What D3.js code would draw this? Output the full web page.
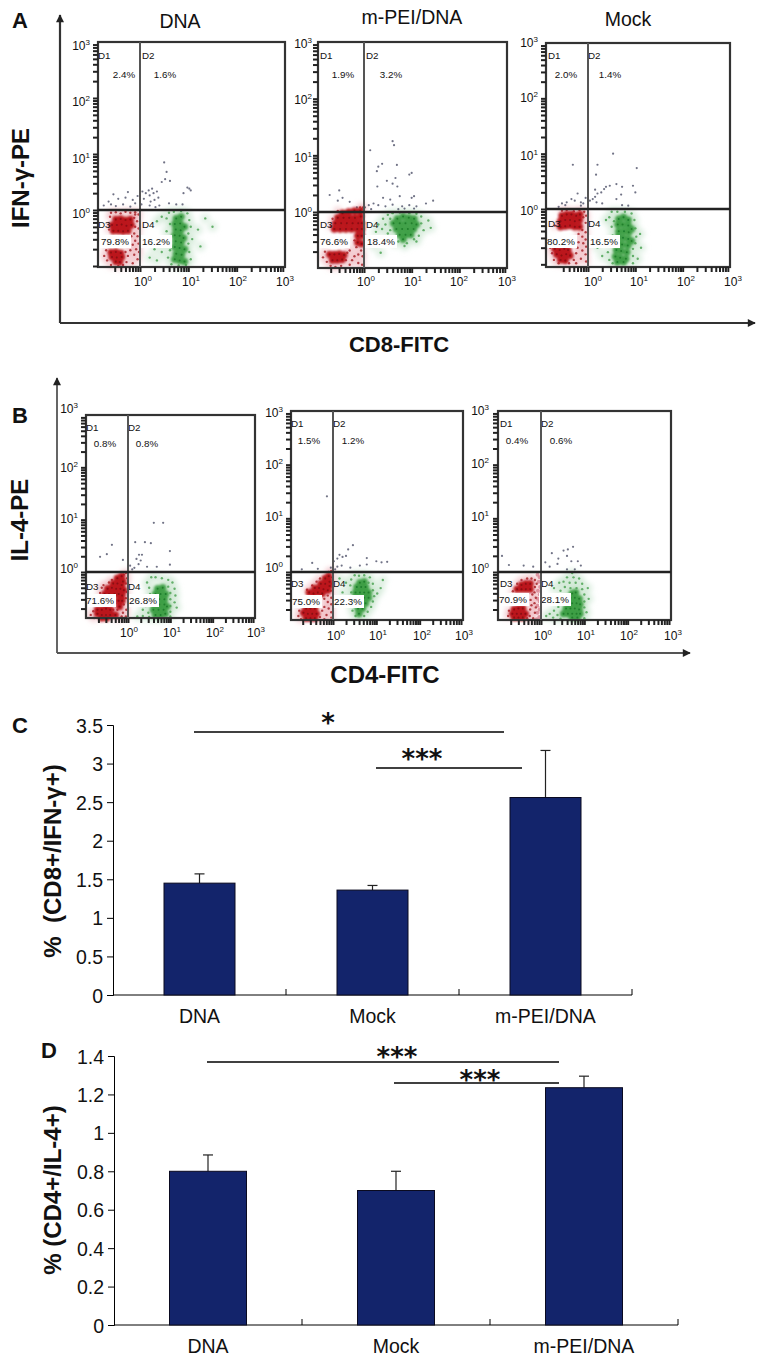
<!DOCTYPE html>
<html><head><meta charset="utf-8">
<script src="https://cdnjs.cloudflare.com/ajax/libs/d3/7.8.5/d3.min.js"></script>
<style>
html,body{margin:0;padding:0;background:#fff}
svg{display:block}
text{font-family:"Liberation Sans",Arial,sans-serif;fill:#111}
</style></head><body><svg id="c" width="773" height="1364"></svg>
<script>
// ---- Bar chart data ----
const barCategories=["DNA","Mock","m-PEI/DNA"];
const cd8Means=[1.45,1.36,2.56];
const cd8Tops=[1.57,1.42,3.17];
const cd4Means=[0.8,0.7,1.235];
const cd4Tops=[0.885,0.8,1.295];
const cd8Ticks=[0,0.5,1,1.5,2,2.5,3,3.5];
const cd4Ticks=[0,0.2,0.4,0.6,0.8,1,1.2,1.4];
// ---- Flow panels: points are [log10 x, log10 y] ----
const exponents=[0,1,2,3];
const a1Labels=["2.4%","1.6%","79.8%","16.2%"];
const a2Labels=["1.9%","3.2%","76.6%","18.4%"];
const a3Labels=["2.0%","1.4%","80.2%","16.5%"];
const b1Labels=["0.8%","0.8%","71.6%","26.8%"];
const b2Labels=["1.5%","1.2%","75.0%","22.3%"];
const b3Labels=["0.4%","0.6%","70.9%","28.1%"];

const a1Grey=[[-.75,.08],[-.6,.1],[-.65,.15],[-.5,.07],[-.45,.2],[-.55,.28],[-.35,.1],[-.3,.22],[-.2,.06],[-.15,.18],[-.1,.12],[-.25,.32],[-.05,.25],[.03,.1],[.08,.2],[.12,.3],[.05,.33],[.18,.35],[.2,.26],[.25,.38],[.28,.3],[.22,.15],[.3,.18],[.35,.33],[.4,.08],[.32,.05],[.6,.12],[.75,.1],[.45,.5],[.52,.55],[.62,.52],[.55,.68],[.5,.85],[.98,.4],[1.02,.38],[1.05,.35],[.9,.3],[.88,.1],[.2,.08],[.38,.22]];
const a1RedCore=[[-.5,-.17],[-.4,-.16],[-.3,-.18],[-.2,-.17],[-.58,-.27],[-.48,-.27],[-.38,-.26],[-.28,-.28],[-.18,-.27],[-.55,-.37],[-.45,-.37],[-.35,-.38],[-.25,-.37],[-.6,-.76],[-.5,-.75],[-.4,-.77],[-.58,-.84],[-.48,-.85],[-.38,-.84],[-.5,-.92],[-.42,-.93]];
const a1Red=[[-.6,-.05],[-.5,-.04],[-.4,-.06],[-.3,-.03],[-.2,-.05],[-.1,-.04],[-.03,-.08],[-.12,-.14],[-.06,-.2],[-.1,-.3],[-.03,-.33],[-.12,-.42],[-.05,-.47],[-.18,-.47],[-.1,-.55],[-.03,-.6],[-.15,-.62],[-.08,-.7],[-.02,-.75],[-.2,-.72],[-.12,-.8],[-.05,-.88],[-.25,-.82],[-.3,-.75],[-.28,-.93],[-.7,-.72],[-.74,-.82],[-.68,-.9],[-.6,-.98],[-.45,-1],[-.35,-.98],[-.15,-.95],[-.62,-.12],[-.1,-.08],[-.64,-.35]];
const a1GreenCore=[[.75,-.15],[.85,-.12],[.72,-.25],[.83,-.24],[.92,-.3],[.74,-.35],[.84,-.36],[.72,-.45],[.82,-.46],[.9,-.5],[.74,-.56],[.85,-.58],[.72,-.66],[.82,-.68],[.92,-.7],[.75,-.78],[.86,-.8],[.72,-.88],[.82,-.9],[.92,-.92]];
const a1Green=[[.6,-.05],[.7,-.03],[.85,-.02],[.98,-.06],[.55,-.15],[.45,-.12],[.35,-.2],[.62,-.25],[1.02,-.18],[1.05,-.3],[.55,-.38],[1,-.42],[1.08,-.52],[.6,-.5],[.5,-.6],[1,-.6],[.62,-.72],[1.02,-.75],[.58,-.85],[1.05,-.88],[.65,-.97],[.8,-.99],[.95,-.98],[.3,-.7],[.2,-.85],[.35,-.9],[.45,-.75],[1.2,-.35],[1.35,-.15],[1.25,-.65],[1.5,-.3]];

const a2Grey=[[.13,1.09],[.6,1.25],[.63,1.18],[.3,.8],[.38,.85],[.27,.72],[.69,.83],[1,.69],[.95,.66],[.66,.6],[.6,.5],[.7,.45],[.48,.55],[.28,.45],[.4,.25],[.55,.22],[.75,.28],[1,.25],[1.05,.28],[.2,.15],[.3,.12],[.45,.1],[.6,.13],[.8,.1],[.95,.12],[1.1,.1],[1.3,.15],[1.45,.2],[.1,.12],[.02,.08],[.15,.05],[-.15,.08],[-.3,.18],[-.45,.25],[-.52,.38],[-.72,.3],[-.55,.2],[.72,.05],[.85,.06],[1.05,.06]];
const a2RedCore=[[-.45,-.02],[-.32,.0],[-.2,.02],[-.08,.02],[-.55,-.1],[-.43,-.1],[-.31,-.1],[-.19,-.1],[-.07,-.08],[-.6,-.2],[-.48,-.2],[-.36,-.2],[-.24,-.2],[-.12,-.2],[-.05,-.2],[-.62,-.3],[-.5,-.3],[-.38,-.3],[-.26,-.3],[-.14,-.3],[-.05,-.3],[-.13,-.42],[-.05,-.42],[-.13,-.54],[-.05,-.56],[-.72,-.75],[-.62,-.75],[-.52,-.74],[-.42,-.76],[-.66,-.85],[-.56,-.85],[-.46,-.84]];
const a2Red=[[-.55,.02],[-.05,.05],[-.7,-.25],[-.16,-.62],[-.06,-.68],[-.12,-.75],[-.03,-.78],[-.2,-.78],[-.25,-.85],[-.12,-.9],[-.3,-.93],[-.04,-.93],[-.82,-.7],[-.86,-.8],[-.78,-.88],[-.7,-.95],[-.6,-.97],[-.48,-.95],[-.38,-.85],[-.35,-.72],[-.3,-.68],[-.2,-.5],[-.66,-.12],[-.02,.08],[-.08,.08]];
const a2GreenCore=[[.7,-.12],[.82,-.08],[.94,-.1],[1.05,-.12],[.62,-.2],[.75,-.2],[.87,-.2],[1,-.2],[1.1,-.22],[.68,-.3],[.8,-.3],[.92,-.3],[1.04,-.3],[.75,-.4],[.87,-.4],[.98,-.4],[.82,-.48]];
const a2Green=[[.5,-.05],[.6,-.02],[.75,-.01],[.95,-.02],[1.1,-.03],[1.2,-.08],[.4,-.12],[.45,-.22],[.38,-.3],[.5,-.38],[.55,-.32],[.62,-.45],[1.2,-.2],[1.25,-.32],[1.15,-.42],[1.05,-.48],[.72,-.52],[.9,-.55],[.3,-.22],[.55,-.12],[.65,-.55],[.85,-.6],[1.1,-.52],[1.35,-.15],[1.4,-.28],[.25,-.35],[.2,-.6],[.35,-.72]];

const a3Grey=[[.53,1],[-.32,.8],[.2,.8],[.17,.62],[1.03,.74],[.72,.07],[.85,.06],[-.55,.1],[-.45,.12],[-.48,.07],[-.35,.18],[-.28,.15],[-.22,.28],[-.15,.12],[-.1,.1],[-.05,.2],[.04,.15],[.1,.18],[.15,.22],[.2,.28],[.18,.12],[.28,.3],[.34,.36],[.38,.4],[.46,.42],[.6,.45],[.72,.4],[.3,.1],[.7,.26],[.95,.42],[1,.3],[.15,.35],[.6,.18],[-.62,.04],[-.15,.06]];
const a3RedCore=[[-.55,-.12],[-.45,-.1],[-.35,-.1],[-.25,-.12],[-.17,-.1],[-.58,-.22],[-.48,-.2],[-.38,-.2],[-.28,-.22],[-.18,-.2],[-.58,-.32],[-.48,-.31],[-.38,-.3],[-.28,-.32],[-.18,-.32],[-.7,-.72],[-.6,-.74],[-.5,-.72],[-.42,-.74],[-.66,-.82],[-.56,-.84],[-.46,-.82],[-.38,-.84],[-.58,-.92],[-.48,-.93]];
const a3Red=[[-.55,-.03],[-.45,-.02],[-.3,-.04],[-.18,-.02],[-.08,-.05],[-.1,-.15],[-.05,-.25],[-.12,-.38],[-.05,-.42],[-.2,-.45],[-.12,-.5],[-.05,-.55],[-.2,-.6],[-.1,-.62],[-.04,-.68],[-.22,-.7],[-.12,-.75],[-.05,-.82],[-.25,-.8],[-.15,-.9],[-.04,-.95],[-.3,-.92],[-.76,-.8],[-.8,-.7],[-.72,-.92],[-.62,-.98],[-.4,-.98],[-.25,-.98],[-.7,-.3],[-.04,-.12]];
const a3GreenCore=[[.65,-.18],[.75,-.15],[.85,-.2],[.63,-.28],[.73,-.28],[.85,-.3],[.92,-.36],[.65,-.4],[.76,-.4],[.86,-.42],[.64,-.5],[.74,-.52],[.85,-.54],[.92,-.58],[.62,-.62],[.72,-.64],[.84,-.66],[.6,-.74],[.7,-.76],[.82,-.78],[.58,-.86],[.68,-.88],[.8,-.9],[.62,-.96],[.75,-.96]];
const a3Green=[[.5,-.05],[.62,-.05],[.78,-.05],[.92,-.08],[.45,-.15],[.38,-.2],[.55,-.22],[.98,-.2],[.5,-.32],[1,-.35],[1.1,-.45],[1.02,-.5],[.52,-.48],[1,-.62],[1.12,-.7],[.95,-.72],[.48,-.62],[.42,-.78],[.95,-.85],[1.05,-.9],[.45,-.92],[.3,-.85],[.2,-.7],[.95,-.98],[.52,-.98]];

const b1Grey=[[-.38,.52],[-.66,.29],[-.5,.34],[-.12,.23],[.17,.57],[.4,.57],[.54,.55],[.61,.94],[.83,.94],[.26,.33],[.33,.33],[.99,.4],[.99,.14],[.68,.1],[.45,.1],[.25,.15],[.15,.08],[.1,.05],[.2,.25],[.3,.22],[.05,.12]];
const b1RedCore=[[-.15,-.08],[-.25,-.12],[-.12,-.18],[-.35,-.22],[-.25,-.22],[-.15,-.25],[-.48,-.32],[-.38,-.3],[-.28,-.32],[-.18,-.32],[-.1,-.35],[-.55,-.42],[-.45,-.42],[-.32,-.42],[-.22,-.42],[-.14,-.45],[-.22,-.55],[-.14,-.55],[-.2,-.66],[-.72,-.72],[-.62,-.72],[-.52,-.7],[-.42,-.72],[-.72,-.8],[-.62,-.82],[-.52,-.82],[-.42,-.82],[-.3,-.82],[-.62,-.88],[-.5,-.88]];
const b1Red=[[-.05,-.02],[-.1,-.05],[-.02,-.12],[-.05,-.22],[-.38,-.15],[-.45,-.2],[-.62,-.3],[-.66,-.4],[-.03,-.38],[-.05,-.5],[-.1,-.62],[-.04,-.72],[-.12,-.78],[-.25,-.72],[-.15,-.85],[-.05,-.85],[-.25,-.88],[-.35,-.72],[-.82,-.75],[-.88,-.82],[-.8,-.88],[-.4,-.55],[-.3,-.6],[-.58,-.25]];
const b1GreenCore=[[.7,-.32],[.82,-.3],[.65,-.42],[.77,-.42],[.89,-.42],[.62,-.52],[.74,-.52],[.86,-.52],[.62,-.62],[.74,-.62],[.86,-.62],[.92,-.66],[.6,-.72],[.72,-.72],[.84,-.72],[.65,-.82],[.77,-.82],[.88,-.8]];
const b1Green=[[.55,-.1],[.65,-.1],[.8,-.12],[.95,-.15],[1.05,-.2],[.45,-.2],[.5,-.3],[.95,-.28],[1.1,-.32],[.52,-.42],[1,-.4],[1.12,-.45],[.48,-.55],[1,-.52],[1.1,-.58],[.42,-.65],[1,-.65],[1.15,-.68],[.35,-.72],[.48,-.78],[1,-.76],[.5,-.86],[1,-.85],[.35,-.84],[.22,-.85],[.62,-.88],[.8,-.88]];

const b2Grey=[[-.14,1.41],[-.48,.17],[.02,.2],[.15,.32],[.35,.42],[.46,.5],[.78,.26],[.78,.14],[1.0,.2],[1.12,.18],[1.25,.19],[.1,.25],[.22,.28],[.3,.3],[.05,.05],[.2,.12],[-.72,.05],[-.35,.06],[.4,.08],[.62,.12],[-.05,.08],[.1,.1]];
const b2RedCore=[[-.1,-.08],[-.18,-.12],[-.08,-.18],[-.28,-.22],[-.18,-.22],[-.08,-.26],[-.42,-.3],[-.32,-.3],[-.22,-.32],[-.12,-.34],[-.55,-.38],[-.45,-.4],[-.35,-.38],[-.25,-.4],[-.62,-.68],[-.52,-.68],[-.42,-.68],[-.68,-.76],[-.58,-.78],[-.48,-.78],[-.38,-.78],[-.62,-.86],[-.52,-.86],[-.42,-.86]];
const b2Red=[[-.04,.02],[-.1,0],[-.02,-.1],[-.03,-.22],[-.3,-.12],[-.38,-.18],[-.48,-.25],[-.6,-.33],[-.05,-.35],[-.12,-.44],[-.04,-.48],[-.2,-.5],[-.12,-.56],[-.04,-.6],[-.2,-.65],[-.1,-.68],[-.04,-.75],[-.25,-.72],[-.15,-.8],[-.04,-.85],[-.3,-.84],[-.2,-.88],[-.78,-.72],[-.8,-.82],[-.74,-.88]];
const b2GreenCore=[[.62,-.2],[.72,-.18],[.55,-.28],[.65,-.28],[.75,-.28],[.52,-.38],[.62,-.38],[.72,-.38],[.82,-.38],[.52,-.48],[.62,-.48],[.72,-.48],[.82,-.48],[.55,-.58],[.65,-.58],[.75,-.58],[.58,-.68],[.68,-.68],[.6,-.78]];
const b2Green=[[.5,-.06],[.6,-.07],[.72,-.06],[.85,-.1],[.42,-.14],[.82,-.2],[.92,-.22],[.4,-.25],[.92,-.34],[.42,-.38],[.95,-.45],[1.02,-.4],[.38,-.5],[.92,-.55],[.42,-.6],[.88,-.65],[.45,-.72],[.8,-.74],[.52,-.82],[.72,-.82],[.3,-.2],[.22,-.38],[.15,-.12],[1.15,-.15],[1.1,-.3]];

const b3Grey=[[.52,.4],[.4,.25],[.38,.15],[.62,.42],[.25,.35],[.6,.3],[.74,.47],[.85,.2],[.78,.05],[.92,.12],[-.74,.13],[-.4,.12],[-.18,.1],[-.9,.3],[.1,.18],[.2,.1],[.7,.2],[.6,.05]];
const b3RedCore=[[-.45,-.24],[-.35,-.22],[-.25,-.22],[-.55,-.32],[-.45,-.32],[-.35,-.32],[-.25,-.32],[-.62,-.7],[-.52,-.68],[-.42,-.68],[-.66,-.78],[-.56,-.78],[-.46,-.78],[-.36,-.78],[-.62,-.85],[-.52,-.85],[-.42,-.85]];
const b3Red=[[-.45,-.15],[-.32,-.12],[-.22,-.12],[-.14,-.15],[-.55,-.22],[-.14,-.28],[-.1,-.22],[-.65,-.36],[-.15,-.38],[-.2,-.42],[-.12,-.48],[-.24,-.52],[-.15,-.58],[-.22,-.62],[-.12,-.66],[-.25,-.7],[-.14,-.76],[-.26,-.82],[-.18,-.86],[-.32,-.86],[-.74,-.72],[-.76,-.82]];
const b3Pink=[[-.08,-.05],[-.03,-.1],[-.05,-.18],[-.02,-.28],[-.07,-.35],[-.03,-.42],[-.08,-.5],[-.03,-.55],[-.08,-.63],[-.03,-.7],[-.08,-.76],[-.04,-.84],[-.1,-.88]];
const b3GreenCore=[[.72,-.4],[.8,-.38],[.68,-.48],[.78,-.48],[.88,-.5],[.62,-.58],[.72,-.58],[.82,-.58],[.9,-.6],[.58,-.68],[.68,-.68],[.78,-.68],[.88,-.7],[.52,-.78],[.62,-.78],[.72,-.78],[.82,-.78],[.9,-.78],[.72,-.85],[.84,-.85]];
const b3Green=[[.72,-.02],[.6,-.1],[.75,-.1],[.88,-.12],[.52,-.18],[.66,-.2],[.8,-.2],[.95,-.22],[.42,-.2],[.55,-.28],[.68,-.3],[.82,-.3],[.95,-.32],[1.08,-.3],[.3,-.3],[.45,-.35],[.58,-.42],[1,-.42],[1.1,-.5],[.45,-.55],[1,-.55],[.4,-.65],[1,-.66],[.3,-.72],[1.05,-.75],[.38,-.8],[.2,-.78],[.45,-.87],[1,-.86],[.28,-.85],[.12,-.82]];

// ---- Layout of each flow panel (page pixels) ----
const panels=[
 {title:"DNA",tx:180,ty:28,l:98,r:285,t:42,b:267,v:140,h:210,labels:a1Labels,grey:a1Grey,redCore:a1RedCore,red:a1Red,greenCore:a1GreenCore,green:a1Green,
  yLabY:[218,163,106,50],yLabR:90,xLabX:[143,191,238,285],xLabY:286,
  txt:{d:[98,142,59,228],p:[124,165,78,115,156,245]}},
 {title:"m-PEI/DNA",tx:412,ty:24,l:318,r:507,t:42,b:268,v:364,h:212,labels:a2Labels,grey:a2Grey,redCore:a2RedCore,red:a2Red,greenCore:a2GreenCore,green:a2Green,
  yLabY:[217,162,104,48],yLabR:312,xLabX:[366,413,459,507],xLabY:286,
  txt:{d:[320,366,59,228],p:[343,391,78,334,381,245]}},
 {title:"Mock",tx:628,ty:26,l:546,r:730,t:43,b:267,v:588,h:209,labels:a3Labels,grey:a3Grey,redCore:a3RedCore,red:a3Red,greenCore:a3GreenCore,green:a3Green,
  yLabY:[215,160,102,47],yLabR:538,xLabX:[593,639,686,733],xLabY:286,
  txt:{d:[548,588,59,227],p:[566,610,78,561,604,245]}},
 {title:"",l:86,r:255,t:415,b:618,v:128,h:572,labels:b1Labels,grey:b1Grey,redCore:b1RedCore,red:b1Red,greenCore:b1GreenCore,green:b1Green,
  yLabY:[573,523,472,413],yLabR:78,xLabX:[129,172,215,256],xLabY:637,
  txt:{d:[86,128,431,590],p:[105,147,447,100,143,604]}},
 {title:"",l:291,r:463,t:411,b:620,v:333,h:572,labels:b2Labels,grey:b2Grey,redCore:b2RedCore,red:b2Red,greenCore:b2GreenCore,green:b2Green,
  yLabY:[572,521,469,417],yLabR:283,xLabX:[336,378,422,464],xLabY:640,
  txt:{d:[291,333,427,587],p:[309,353,444,306,348,605]}},
 {title:"",l:498,r:671,t:411,b:620,v:541,h:572,labels:b3Labels,grey:b3Grey,redCore:b3RedCore,red:b3Red,pink:b3Pink,greenCore:b3GreenCore,green:b3Green,
  yLabY:[573,521,468,415],yLabR:489,xLabX:[543,586,629,673],xLabY:640,
  txt:{d:[500,541,427,587],p:[517,561,444,513,555,603]}}
];

const svg=d3.select("#c");
const defs=svg.append("defs");
[["soft",.5],["core",1.0],["halo",2.6]].forEach(([id,s])=>{
  defs.append("filter").attr("id",id).attr("x","-30%").attr("y","-30%").attr("width","160%").attr("height","160%")
    .append("feGaussianBlur").attr("stdDeviation",s);
});
const arrow=defs.append("marker").attr("id","arr").attr("viewBox","0 0 10 10").attr("refX",9).attr("refY",5)
  .attr("markerWidth",9).attr("markerHeight",8).attr("markerUnits","userSpaceOnUse").attr("orient","auto");
arrow.append("path").attr("d","M0,0L10,5L0,10Z").attr("fill","#222");

function letter(s,x,y){svg.append("text").attr("x",x).attr("y",y).attr("font-size",22).attr("font-weight",700).text(s);}
function vert(s,x,y,size){svg.append("text").attr("transform",`translate(${x},${y}) rotate(-90)`).attr("text-anchor","middle")
  .attr("font-size",size).attr("font-weight",700).text(s);}
function horiz(s,x,y,size){svg.append("text").attr("x",x).attr("y",y).attr("text-anchor","middle").attr("font-size",size).attr("font-weight",700).text(s);}
function frame(x,y0,y1,x1,w,c){
  svg.append("path").attr("d",`M${x},${y1}L${x},${y0}`).attr("stroke",c).attr("stroke-width",w).attr("fill","none").attr("marker-end","url(#arr)");
  svg.append("path").attr("d",`M${x},${y1}L${x1},${y1}`).attr("stroke",c).attr("stroke-width",w).attr("fill","none").attr("marker-end","url(#arr)");
}
letter("A",12,28);letter("B",12,423);letter("C",12,733);letter("D",41,1058);
frame(60,15,323,755,2.2,"#333");
frame(57,378,653,690,1.8,"#555");
vert("IFN-γ-PE",29,178,24);
vert("IL-4-PE",28,520,24);
horiz("CD8-FITC",399,352,22);
horiz("CD4-FITC",385,683,24);

const minorVals=[];
[-1,0,1,2].forEach(d=>[1,2,3,4,5,6,7,8,9].forEach(m=>minorVals.push(d+Math.log10(m))));

panels.forEach(p=>{
  const x=d3.scaleLinear().domain([0,3]).range([p.v,p.r]);
  const y=d3.scaleLinear().domain([0,3]).range([p.h,p.t]);
  const g=svg.append("g");
  if(p.title) g.append("text").attr("x",p.tx).attr("y",p.ty).attr("text-anchor","middle").attr("font-size",19.5).text(p.title);
  const layer=(pts,r,fill,op,filter)=>{ if(!pts)return;
    g.append("g").attr("filter",`url(#${filter})`).selectAll("circle").data(pts).join("circle")
      .attr("cx",d=>x(d[0])).attr("cy",d=>y(d[1])).attr("r",r).attr("fill",fill).attr("opacity",op);};
  layer(p.green,5,"#cfe8d4",.6,"halo");
  layer(p.red,4,"#eeb6bd",.6,"halo");
  layer(p.greenCore,4.2,"#8ccb8f",.7,"halo");
  layer(p.grey,1.1,"#4d5068",.8,"soft");
  layer(p.pink,2,"#d8808f",.8,"soft");
  layer(p.green,1.2,"#4fa556",.85,"soft");
  layer(p.red,1.2,"#a8262c",.85,"soft");
  layer(p.greenCore,3.5,"#3d9e45",.95,"core");
  layer(p.redCore,3.7,"#bb141c",1,"core");
  layer(p.greenCore,1,"#1d7a2a",.9,"soft");
  layer(p.redCore,1,"#7c0c12",.8,"soft");
  // percent patches & labels
  const T=p.txt,font=9.8;
  const put=(s,xx,yy,anchor)=>g.append("text").attr("x",xx).attr("y",yy).attr("text-anchor",anchor).attr("font-size",font).text(s);
  [[p.labels[2],T.p[3]],[p.labels[3],T.p[4]]].forEach(([s,cx])=>{
    g.append("rect").attr("x",cx-s.length*3-1).attr("y",T.p[5]-10).attr("width",s.length*6+2).attr("height",13).attr("fill","#fff");
  });
  put("D1",T.d[0],T.d[2],"start");put("D2",T.d[1],T.d[2],"start");put("D3",T.d[0],T.d[3],"start");put("D4",T.d[1],T.d[3],"start");
  put(p.labels[0],T.p[0],T.p[2],"middle");put(p.labels[1],T.p[1],T.p[2],"middle");
  put(p.labels[2],T.p[3],T.p[5],"middle");put(p.labels[3],T.p[4],T.p[5],"middle");
  // box & gates
  g.append("rect").attr("x",p.l).attr("y",p.t).attr("width",p.r-p.l).attr("height",p.b-p.t).attr("fill","none").attr("stroke","#333").attr("stroke-width",2.2);
  g.append("line").attr("x1",x(0)).attr("x2",x(0)).attr("y1",p.t).attr("y2",p.b).attr("stroke","#555").attr("stroke-width",2);
  g.append("line").attr("x1",p.l).attr("x2",p.r).attr("y1",y(0)).attr("y2",y(0)).attr("stroke","#222").attr("stroke-width",2.4);
  // axes
  const lo=d=>d>=x.invert(p.l)+.25, ylo=d=>d>=y.invert(p.b);
  const ax=g.append("g").attr("transform",`translate(${p.l},0)`).call(d3.axisLeft(y).tickValues(minorVals.filter(ylo)).tickSize(5).tickFormat(""));
  ax.select(".domain").remove();ax.selectAll("line").attr("stroke","#222").attr("stroke-width",2);
  const bx=g.append("g").attr("transform",`translate(0,${p.b})`).call(d3.axisBottom(x).tickValues(minorVals.filter(lo)).tickSize(5).tickFormat(""));
  bx.select(".domain").remove();bx.selectAll("line").attr("stroke","#222").attr("stroke-width",2);
  const power=(sel,e)=>{sel.append("tspan").text("10");sel.append("tspan").attr("dy",-5).attr("font-size",8).text(e);};
  exponents.forEach((e,i)=>{
    power(g.append("text").attr("x",p.yLabR).attr("y",p.yLabY[i]).attr("text-anchor","end").attr("font-size",12),e);
    power(g.append("text").attr("x",p.xLabX[i]).attr("y",p.xLabY).attr("text-anchor","middle").attr("font-size",12),e);
  });
});

// ---- Bar panels ----
function bars(o){
  const y=d3.scaleLinear().domain([0,o.max]).range([o.y0,o.y1]);
  const x=d3.scaleBand().domain(barCategories).range([o.x0,o.x1]);
  const g=svg.append("g");
  const ya=g.append("g").attr("transform",`translate(${o.x0},0)`).call(d3.axisLeft(y).tickValues(o.ticks).tickSize(6).tickFormat(d3.format("~g")));
  ya.select(".domain").attr("stroke","#000").attr("stroke-width",1);
  ya.selectAll("text").attr("font-size",19.5).attr("dx",-1).attr("dy",".36em");
  g.append("line").attr("x1",o.x0).attr("x2",o.x1).attr("y1",o.y0).attr("y2",o.y0).attr("stroke","#000");
  g.selectAll("line.sep").data(barCategories).join("line").attr("class","sep")
    .attr("x1",d=>x(d)+x.bandwidth()).attr("x2",d=>x(d)+x.bandwidth()).attr("y1",o.y0-6).attr("y2",o.y0).attr("stroke","#000");
  g.selectAll("text.cat").data(barCategories).join("text").attr("class","cat").attr("text-anchor","middle")
    .attr("x",d=>x(d)+x.bandwidth()/2).attr("y",o.catY).attr("font-size",19.5).text(d=>d);
  const cx=(d)=>x(d)+x.bandwidth()/2;
  barCategories.forEach((c,i)=>{
    g.append("line").attr("x1",cx(c)).attr("x2",cx(c)).attr("y1",y(o.means[i])).attr("y2",y(o.tops[i])).attr("stroke","#222").attr("stroke-width",1.2);
    g.append("line").attr("x1",cx(c)-5).attr("x2",cx(c)+5).attr("y1",y(o.tops[i])).attr("y2",y(o.tops[i])).attr("stroke","#222").attr("stroke-width",1.2);
  });
  g.selectAll("rect").data(barCategories).join("rect")
    .attr("x",d=>cx(d)-o.bw/2).attr("width",o.bw).attr("y",(d,i)=>y(o.means[i])).attr("height",(d,i)=>o.y0-y(o.means[i]))
    .attr("fill","#13246b").attr("stroke","#0a0a20").attr("stroke-width",1);
  o.sig.forEach(s=>{
    g.append("line").attr("x1",s[0]).attr("x2",s[1]).attr("y1",s[2]).attr("y2",s[2]).attr("stroke","#000").attr("stroke-width",1.3);
    g.append("text").attr("x",s[3]).attr("y",s[4]).attr("text-anchor","middle").style("font-family","'DejaVu Sans'").attr("font-weight",700).attr("font-size",26).text(s[5]);
  });
}
bars({max:3.5,y0:995,y1:725,x0:113,x1:632,bw:71,means:cd8Means,tops:cd8Tops,ticks:cd8Ticks,catY:1023,
  sig:[[194,504,732,328,732,"*"],[376,522,768,422,768,"***"]]});
bars({max:1.4,y0:1325,y1:1056,x0:114,x1:678,bw:77,means:cd4Means,tops:cd4Tops,ticks:cd4Ticks,catY:1353,
  sig:[[207,559,1062,397,1066,"***"],[394,559,1083,480,1089,"***"]]});
vert("%\u00a0\u00a0(CD8+/IFN-γ+)",61,861,24);
vert("%\u00a0(CD4+/IL-4+)",61,1190,24);
</script></body></html>
